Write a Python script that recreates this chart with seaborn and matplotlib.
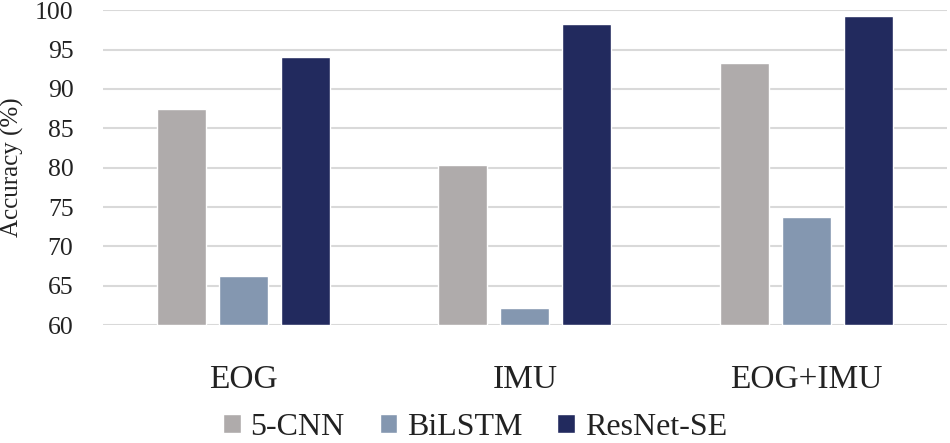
import pandas as pd
import matplotlib
matplotlib.use('Agg')
import matplotlib.pyplot as plt
import seaborn as sns

# values
inputs = ['EOG', 'IMU', 'EOG+IMU']
models = ['5-CNN', 'BiLSTM', 'ResNet-SE']
cnn5 = [87.4, 80.4, 93.3]
bilstm = [66.2, 62.2, 73.7]
resnet_se = [94.0, 98.3, 99.2]
colors = ['#AFABAB', '#8497B0', '#222A5E']

df = pd.DataFrame({
    'Input': inputs * 3,
    'Model': [m for m in models for _ in inputs],
    'Accuracy': cnn5 + bilstm + resnet_se,
})

sns.set_style('white')
plt.rcParams['font.family'] = ['Liberation Serif', 'DejaVu Serif']
txt = '#222222'

fig = plt.figure(figsize=(9.5, 4.43), dpi=100)
ax = fig.add_axes([0.108, 0.266, 0.889, 0.711])

sns.barplot(data=df, x='Input', y='Accuracy', hue='Model', palette=colors,
            width=0.66, gap=0.21, ax=ax, zorder=3, saturation=1)

# bars start from the bottom of the axis (60)
for p in ax.patches:
    p.set_y(60)
    p.set_height(p.get_height() - 60)

ax.set_ylim(60, 100)
ax.set_yticks(range(60, 101, 5))
ax.yaxis.grid(True, color='#D9D9D9', linewidth=1.5, zorder=0)
ax.set_axisbelow(True)
for s in ax.spines.values():
    s.set_visible(False)

ax.tick_params(axis='y', labelsize=18.5, length=0, pad=21, labelcolor=txt)
ax.tick_params(axis='x', labelsize=24, length=0, pad=28, labelcolor=txt)
ax.set_xlabel('')
ax.set_ylabel('Accuracy (%)', fontsize=18, color=txt)
ax.yaxis.set_label_coords(-0.093, 0.5)

ax.legend(loc='center', bbox_to_anchor=(0.5, 0.036), bbox_transform=fig.transFigure,
          ncol=3, frameon=False, fontsize=23, handlelength=0.55, handleheight=0.55,
          handletextpad=0.3, columnspacing=1.1, labelcolor=txt,
          borderpad=0.1)

fig.savefig('out.png', dpi=100)
